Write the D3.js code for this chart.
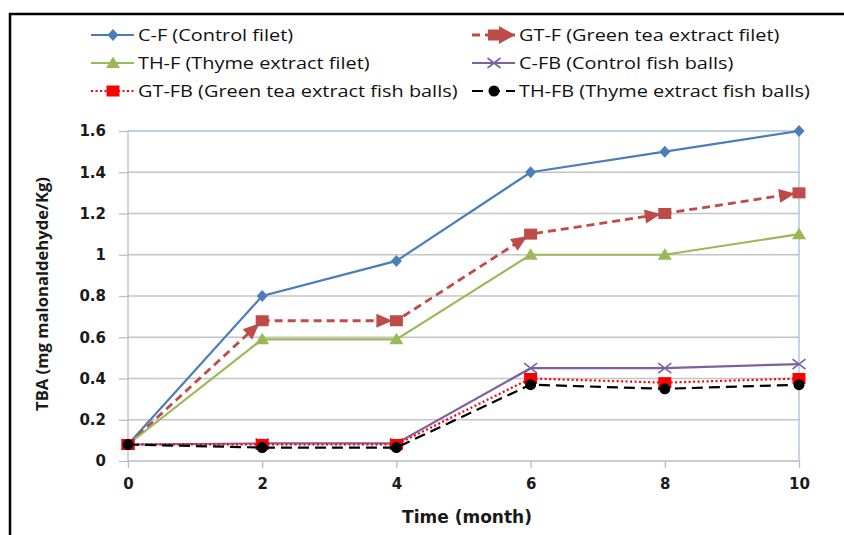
<!DOCTYPE html>
<html>
<head>
<meta charset="utf-8">
<script src="https://cdn.jsdelivr.net/npm/d3@7"></script>
<style>
  body { margin: 0; background: #fff; }
</style>
</head>
<body>
<div id="chart"></div>
<script>
// data
var months = [0, 2, 4, 6, 8, 10];
var cF   = [0.08, 0.80, 0.97, 1.40, 1.50, 1.60];
var gtF  = [0.08, 0.68, 0.68, 1.10, 1.20, 1.30];
var thF  = [0.08, 0.59, 0.59, 1.00, 1.00, 1.10];
var cFB  = [0.08, 0.085, 0.085, 0.45, 0.45, 0.47];
var gtFB = [0.08, 0.08, 0.08, 0.40, 0.38, 0.40];
var thFB = [0.08, 0.065, 0.065, 0.37, 0.35, 0.37];
var yTicks = [0, 0.2, 0.4, 0.6, 0.8, 1, 1.2, 1.4, 1.6];
var seriesNames = ["C-F (Control filet)", "GT-F (Green tea extract filet)",
  "TH-F (Thyme extract filet)", "C-FB (Control fish balls)",
  "GT-FB (Green tea extract fish balls)", "TH-FB (Thyme extract fish balls)"];

var series = [
  {name: seriesNames[0], values: cF,   color: "#4A7EBB", dash: null,   width: 2.2, marker: "diamond"},
  {name: seriesNames[1], values: gtF,  color: "#BE4B48", dash: "8,5",  width: 2.8, marker: "arrow"},
  {name: seriesNames[2], values: thF,  color: "#98B954", dash: null,   width: 2.2, marker: "triangle"},
  {name: seriesNames[3], values: cFB,  color: "#7D60A0", dash: null,   width: 2.2, marker: "cross"},
  {name: seriesNames[4], values: gtFB, color: "#FF0000", dash: "2,2.5",width: 2.2, marker: "square"},
  {name: seriesNames[5], values: thFB, color: "#000000", dash: "11,6", width: 2.2, marker: "circle"}
];

var width = 844, height = 535;
var svg = d3.select("#chart").append("svg")
  .attr("width", width).attr("height", height);

// outer frame
svg.append("rect")
  .attr("x", 10).attr("y", 14).attr("width", 860).attr("height", 560)
  .attr("fill", "none").attr("stroke", "#000").attr("stroke-width", 2.5);

var x = d3.scaleLinear().domain([0, 10]).range([128, 799]);
var y = d3.scaleLinear().domain([0, 1.6]).range([461, 131]);

// gridlines
svg.append("g").selectAll("line")
  .data(yTicks.slice(1, -1))
  .enter().append("line")
  .attr("x1", x(0)).attr("x2", x(10))
  .attr("y1", function(d) { return y(d); })
  .attr("y2", function(d) { return y(d); })
  .attr("stroke", "#C4C4C4").attr("stroke-width", 1.3);

// plot border top / right
svg.append("path")
  .attr("d", "M" + x(0) + "," + y(1.6) + "H" + x(10) + "V" + y(0))
  .attr("fill", "none").attr("stroke", "#A7C0DE").attr("stroke-width", 1.3);

var yAxis = d3.axisLeft(y).tickValues(yTicks).tickSize(9).tickPadding(13)
  .tickFormat(function(d) { return d === 0 || d === 1 ? d : d3.format(".1f")(d); });
var gy = svg.append("g").attr("transform", "translate(" + x(0) + ",0)").call(yAxis);

var xAxis = d3.axisBottom(x).tickValues(months).tickSize(7).tickPadding(10);
var gx = svg.append("g").attr("transform", "translate(0," + y(0) + ")").call(xAxis);

[gx, gy].forEach(function(g) {
  g.selectAll("path, line").attr("stroke", "#BDBDBD").attr("stroke-width", 1.3);
  g.selectAll("text").attr("font-size", 15).attr("font-weight", "bold")
    .attr("fill", "#1a1a1a").style("font-family", "'DejaVu Sans', sans-serif");
});
gy.select(".domain").attr("d", "M0," + y(0) + "V" + y(1.6));
gx.select(".domain").attr("d", "M" + x(0) + ",0H" + x(10));

// axis titles
svg.append("text")
  .attr("x", 467).attr("y", 523)
  .attr("text-anchor", "middle")
  .style("font-family", "'DejaVu Sans', sans-serif")
  .attr("font-size", 17).attr("font-weight", "bold").attr("fill", "#1a1a1a")
  .text("Time (month)");
svg.append("text")
  .attr("transform", "translate(48,294) rotate(-90)")
  .attr("text-anchor", "middle")
  .style("font-family", "'Open Sans', sans-serif")
  .attr("font-size", 15.5).attr("font-weight", "bold").attr("fill", "#1a1a1a")
  .attr("textLength", 234).attr("lengthAdjust", "spacingAndGlyphs")
  .text("TBA (mg malonaldehyde/Kg)");

function drawMarker(g, type, cx, cy, color, angle) {
  var t = "translate(" + cx + "," + cy + ")";
  if (type === "diamond") {
    g.append("path").attr("d", "M0,-6L5.5,0L0,6L-5.5,0Z")
      .attr("transform", t).attr("fill", color);
  } else if (type === "triangle") {
    g.append("path").attr("d", "M0,-6.5L7,5L-7,5Z")
      .attr("transform", t).attr("fill", color);
  } else if (type === "cross") {
    g.append("path").attr("d", "M-6.5,-5L6.5,5M-6.5,5L6.5,-5")
      .attr("transform", t)
      .attr("stroke", color).attr("stroke-width", 1.6).attr("fill", "none");
  } else if (type === "square") {
    g.append("rect").attr("x", cx - 6.5).attr("y", cy - 5.5)
      .attr("width", 13).attr("height", 11).attr("fill", color);
  } else if (type === "circle") {
    g.append("circle").attr("cx", cx).attr("cy", cy).attr("r", 5.5).attr("fill", color);
  } else if (type === "arrow") {
    g.append("rect").attr("x", cx - 6.5).attr("y", cy - 5.5)
      .attr("width", 13).attr("height", 11).attr("fill", color);
    if (angle !== null) {
      g.append("path").attr("d", "M-20,-7L-4,0L-20,7Z")
        .attr("transform", t + " rotate(" + angle + ")")
        .attr("fill", color);
    }
  }
}

var line = d3.line()
  .x(function(d, i) { return x(months[i]); })
  .y(function(d) { return y(d); });

series.forEach(function(s) {
  var g = svg.append("g");
  g.append("path")
    .attr("d", line(s.values))
    .attr("fill", "none")
    .attr("stroke", s.color)
    .attr("stroke-width", s.width)
    .attr("stroke-dasharray", s.dash);
  s.values.forEach(function(v, i) {
    var ang = null;
    if (i > 0) {
      var dx = x(months[i]) - x(months[i - 1]);
      var dy = y(v) - y(s.values[i - 1]);
      ang = Math.atan2(dy, dx) * 180 / Math.PI;
    }
    drawMarker(g, s.marker, x(months[i]), y(v), s.color, ang);
  });
});

// legend
var legendPos = [[91, 35], [472, 35], [91, 63], [472, 63], [91, 91], [472, 91]];
series.forEach(function(s, i) {
  var lx = legendPos[i][0], ly = legendPos[i][1];
  var g = svg.append("g");
  g.append("line")
    .attr("x1", lx).attr("x2", lx + 43).attr("y1", ly).attr("y2", ly)
    .attr("stroke", s.color).attr("stroke-width", s.width)
    .attr("stroke-dasharray", s.dash);
  if (s.marker === "arrow") {
    g.append("rect").attr("x", lx + 16).attr("y", ly - 5.5)
      .attr("width", 12).attr("height", 11).attr("fill", s.color);
    g.append("path").attr("d", "M" + (lx + 27) + "," + (ly - 9) + "L" + (lx + 43) + "," + ly + "L" + (lx + 27) + "," + (ly + 9) + "Z")
      .attr("fill", s.color);
  } else {
    drawMarker(g, s.marker, lx + 22, ly, s.color, null);
  }
  g.append("text")
    .attr("transform", "translate(" + (lx + 47) + "," + (ly + 5.8) + ") scale(1.17,1)")
    .style("font-family", "'Open Sans', sans-serif")
    .attr("font-size", 17).attr("fill", "#111")
    .text(s.name);
});
</script>
</body>
</html>
